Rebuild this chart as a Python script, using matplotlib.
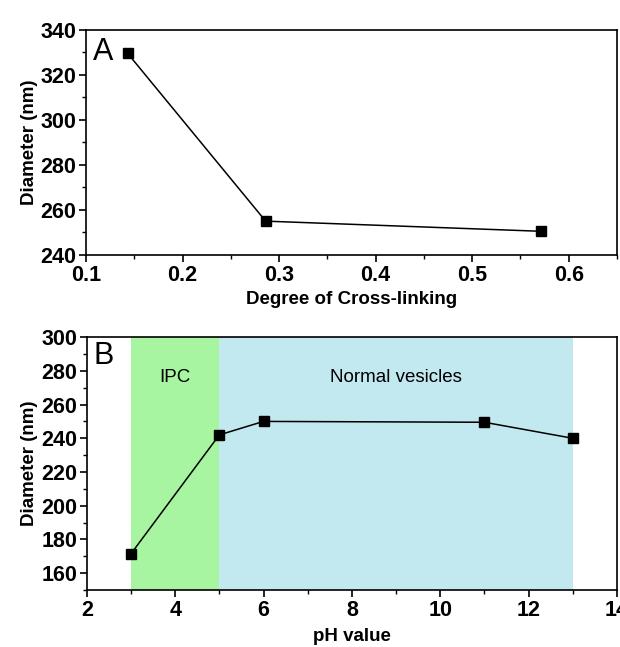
import matplotlib
matplotlib.use('Agg')
from matplotlib import pyplot as plt
from matplotlib.ticker import MultipleLocator

# panel A data
crosslink = [0.143, 0.286, 0.571]
diam_a = [329.5, 255.0, 250.5]

# panel B data
ph = [3, 5, 6, 11, 13]
diam_b = [171.5, 242.0, 250.0, 249.5, 240.0]

# shaded regions (pH)
ipc_range = (3, 5)
normal_range = (5, 13)

plt.rcParams['font.family'] = ['Liberation Sans Narrow', 'Liberation Sans', 'DejaVu Sans']

fig = plt.figure(figsize=(6.2, 6.47), dpi=100)
axA = fig.add_axes([0.139, 0.606, 0.856, 0.348])
axB = fig.add_axes([0.140, 0.088, 0.855, 0.391])


def style(ax):
    ax.tick_params(which='both', direction='out', top=False, right=False)
    ax.tick_params(which='major', length=5, width=1.2, labelsize=15.5, pad=2)
    ax.tick_params(which='minor', length=3, width=1)
    for lab in ax.get_xticklabels() + ax.get_yticklabels():
        lab.set_fontweight('bold')
    for s in ax.spines.values():
        s.set_linewidth(1.2)


# --- A ---
axA.plot(crosslink, diam_a, color='black', lw=1.1, marker='s', ms=7, clip_on=False)
axA.set_xlim(0.1, 0.65)
axA.set_ylim(240, 340)
axA.xaxis.set_minor_locator(MultipleLocator(0.05))
axA.yaxis.set_minor_locator(MultipleLocator(10))
axA.set_xticks([0.1, 0.2, 0.3, 0.4, 0.5, 0.6])
axA.set_xticklabels(['0.1', '0.2', '0.3', '0.4', '0.5', '0.6'])
axA.set_yticks(range(240, 341, 20))
axA.set_xlabel('Degree of Cross-linking', fontsize=13.5, fontweight='bold', labelpad=4)
axA.set_ylabel('Diameter (nm)', fontsize=13.5, fontweight='bold', labelpad=2)
axA.text(0.012, 0.97, 'A', transform=axA.transAxes, fontsize=22, va='top', ha='left')
style(axA)

# --- B ---
axB.axvspan(*ipc_range, color='#a7f5a0', lw=0)
axB.axvspan(*normal_range, color='#c2e8f0', lw=0)
axB.plot(ph, diam_b, color='black', lw=1.1, marker='s', ms=7, clip_on=False)
axB.set_xlim(2, 14)
axB.set_ylim(150, 300)
axB.xaxis.set_major_locator(MultipleLocator(2))
axB.xaxis.set_minor_locator(MultipleLocator(1))
axB.yaxis.set_minor_locator(MultipleLocator(10))
axB.set_yticks(range(160, 301, 20))
axB.text(4, 276, 'IPC', fontsize=13.5, ha='center', va='center')
axB.text(9, 276, 'Normal vesicles', fontsize=13.5, ha='center', va='center')
axB.set_xlabel('pH value', fontsize=13.5, fontweight='bold', labelpad=5)
axB.set_ylabel('Diameter (nm)', fontsize=13.5, fontweight='bold', labelpad=2)
axB.text(0.012, 0.985, 'B', transform=axB.transAxes, fontsize=22, va='top', ha='left')
style(axB)

fig.savefig('out.png', dpi=100)
